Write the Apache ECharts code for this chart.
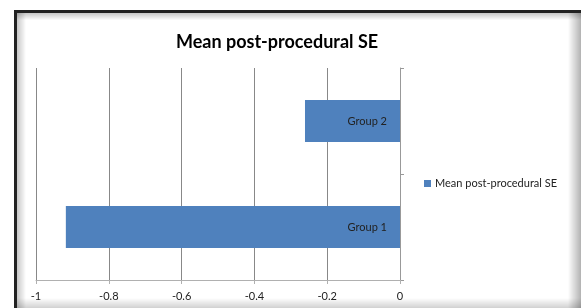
<!DOCTYPE html>
<html>
<head>
<meta charset="utf-8">
<script src="https://cdn.jsdelivr.net/npm/echarts@6/dist/echarts.min.js"></script>
<style>
  html, body { margin: 0; padding: 0; background: #fff; }
  #chart1 { width: 581px; height: 308px; }
</style>
</head>
<body>
<div id="chart1"></div>
<script>
// data
var categories = ['Group 1', 'Group 2'];
var seriesName = 'Mean post-procedural SE';
var values = [-0.918, -0.261];
var xMin = -1, xMax = 0, xStep = 0.2;

var chart = echarts.init(document.getElementById('chart1'));

// frame with inset shading round the chart (decoration only)
function shade(x, y, w, h, x2, y2) {
    return {
        type: 'rect',
        shape: { x: x, y: y, width: w, height: h },
        style: {
            fill: new echarts.graphic.LinearGradient(0, 0, x2, y2, [
                { offset: 0, color: 'rgba(0,0,0,0.22)' },
                { offset: 1, color: 'rgba(0,0,0,0)' }
            ])
        },
        silent: true,
        z: -5
    };
}

var option = {
    animation: false,
    textStyle: { fontFamily: 'Lato, "Open Sans", sans-serif' },
    graphic: [
        shade(17, 13, 9, 295, 1, 0),
        shade(17, 13, 564, 7, 0, 1),
        { type: 'rect', shape: { x: 568, y: 13, width: 13, height: 295 }, silent: true, z: -5,
          style: { fill: new echarts.graphic.LinearGradient(1, 0, 0, 0, [
              { offset: 0, color: 'rgba(0,0,0,0.3)' }, { offset: 1, color: 'rgba(0,0,0,0)' }]) } },
        { type: 'rect', shape: { x: 17, y: 298, width: 564, height: 10 }, silent: true, z: -5,
          style: { fill: new echarts.graphic.LinearGradient(0, 1, 0, 0, [
              { offset: 0, color: 'rgba(0,0,0,0.18)' }, { offset: 1, color: 'rgba(0,0,0,0)' }]) } },
        { type: 'line', shape: { x1: 14, y1: 11.5, x2: 581, y2: 11.5 }, style: { stroke: '#222', lineWidth: 3 }, z: -4 },
        { type: 'line', shape: { x1: 15.5, y1: 10, x2: 15.5, y2: 308 }, style: { stroke: '#222', lineWidth: 3 }, z: -4 }
    ],
    title: {
        text: 'Mean post-procedural SE',
        left: 272,
        textAlign: 'center',
        top: 28,
        textStyle: { fontSize: 18, fontWeight: 'bold', color: '#000' }
    },
    legend: {
        data: [seriesName],
        left: 424,
        top: 178,
        padding: 0,
        icon: 'rect',
        itemWidth: 7,
        itemHeight: 7,
        itemGap: 5,
        textStyle: { fontSize: 11, color: '#222', padding: [0, 0, 0, -1] }
    },
    grid: { left: 36, right: 181, top: 68, bottom: 28 },
    xAxis: {
        type: 'value',
        min: xMin,
        max: xMax,
        interval: xStep,
        axisLine: { show: true, lineStyle: { color: '#b0b0b0' } },
        axisTick: { show: true, length: 4, lineStyle: { color: '#b0b0b0' } },
        splitLine: { show: true, lineStyle: { color: '#888', width: 1 } },
        axisLabel: { color: '#222', fontSize: 11, margin: 11 }
    },
    yAxis: {
        type: 'category',
        data: categories,
        position: 'right',
        axisLine: { show: true, lineStyle: { color: '#999' } },
        axisTick: { show: true, length: 4, lineStyle: { color: '#999' } },
        axisLabel: { show: false },
        splitLine: { show: false }
    },
    series: [
        {
            name: seriesName,
            type: 'bar',
            data: values,
            barWidth: 42,
            itemStyle: { color: '#4F81BD' },
            label: {
                show: true,
                position: 'insideRight',
                distance: 13,
                formatter: '{b}',
                color: '#222',
                fontSize: 11
            }
        }
    ]
};

chart.setOption(option);
</script>
</body>
</html>
